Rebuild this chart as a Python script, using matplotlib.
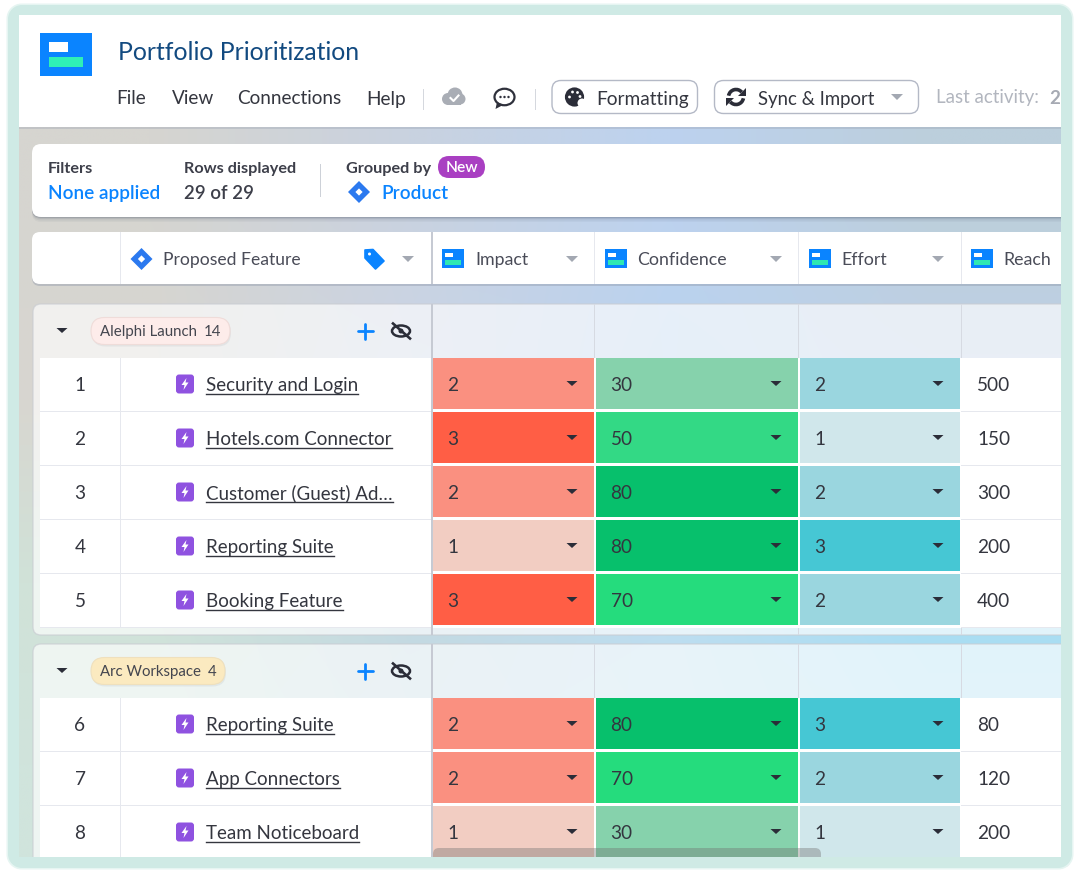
import numpy as np
import matplotlib
matplotlib.use("Agg")
import matplotlib.pyplot as plt
from matplotlib.patches import FancyBboxPatch, Rectangle, Polygon, Circle, Ellipse, PathPatch, Arc
from matplotlib.path import Path
from matplotlib.colors import to_rgb

plt.rcParams['font.family'] = ['Lato', 'DejaVu Sans']

# ---------- data ----------
groups = ["Alelphi Launch", "Arc Workspace"]
group_counts = [14, 4]
group_sizes = [5, 3]
row_numbers = [1, 2, 3, 4, 5, 6, 7, 8]
features = ["Security and Login", "Hotels.com Connector", "Customer (Guest) Ad…",
            "Reporting Suite", "Booking Feature", "Reporting Suite",
            "App Connectors", "Team Noticeboard"]
impact = [2, 3, 2, 1, 3, 2, 2, 1]
confidence = [30, 50, 80, 80, 70, 80, 70, 30]
effort = [2, 1, 2, 3, 2, 3, 2, 1]
reach = [500, 150, 300, 200, 400, 80, 120, 200]
menu_items = ["File", "View", "Connections", "Help"]
column_names = ["Impact", "Confidence", "Effort", "Reach"]

impact_colors = {1: "#f2cdc2", 2: "#fa9080", 3: "#ff5e45"}
confidence_colors = {30: "#86d2ac", 50: "#33d985", 70: "#25dc7d", 80: "#07c06c"}
effort_colors = {1: "#d0e7eb", 2: "#9ad6df", 3: "#46c7d4"}

# ---------- layout ----------
W, H = 1080, 873
fig = plt.figure(figsize=(W / 100, H / 100), dpi=100, facecolor="white")
ax = fig.add_axes([0, 0, 1, 1])
ax.set_xlim(0, W)
ax.set_ylim(H, 0)
ax.axis("off")

INK = "#34363f"
BLUE = "#0a84ff"
L, R, T, B = 19, 1061, 15, 857
OVER = R + 9          # cards run on underneath the frame
col_edges = [431, 594, 798, 961]
col_text_x = [475.5, 637.5, 841, 1003]
col_icon_x = [442, 605, 809, 971]
ROW_H = 54
GROUP_H = 54


def txt(x, y, s, px, color=INK, ha="left", weight="normal", z=10, **kw):
    return ax.text(x, y, s, fontsize=px * 0.72, color=color, ha=ha, va="baseline",
                   fontweight=weight, zorder=z, **kw)


def rrect(x0, y0, x1, y1, r, fc, ec="none", lw=0, z=2, alpha=None):
    p = FancyBboxPatch((x0, y0), x1 - x0, y1 - y0,
                       boxstyle=f"round,pad=0,rounding_size={r}",
                       fc=fc, ec=ec, lw=lw, zorder=z, alpha=alpha)
    ax.add_patch(p)
    return p


def rect(x0, y0, x1, y1, fc, z=2, alpha=None):
    ax.add_patch(Rectangle((x0, y0), x1 - x0, y1 - y0, fc=fc, ec="none", zorder=z, alpha=alpha))


def caret(cx, cy, color, w=6, h=5, z=11):
    ax.add_patch(Polygon([(cx - w, cy - h / 2), (cx + w, cy - h / 2), (cx, cy + h / 2 + 1)],
                         closed=True, fc=color, ec="none", zorder=z))


def mini_logo(x0, y0, x1, y1, z=9):
    w, h = x1 - x0, y1 - y0
    rect(x0, y0, x1, y1, "#0a84ff", z)
    rect(x0 + .15 * w, y0 + .2 * h, x0 + .52 * w, y0 + .44 * h, "#ffffff", z + .1)
    rect(x0 + .15 * w, y0 + .58 * h, x0 + .85 * w, y0 + .82 * h, "#2fe8b2", z + .1)


def diamond(cx, cy, r, z=9):
    ax.add_patch(Polygon([(cx, cy - r), (cx + r, cy), (cx, cy + r), (cx - r, cy)],
                         closed=True, fc="#2b79ef", ec="none", zorder=z))
    s = r * .33
    ax.add_patch(Polygon([(cx, cy - s), (cx + s, cy), (cx, cy + s), (cx - s, cy)],
                         closed=True, fc="white", ec="none", zorder=z + .1))


def bolt(cx, cy, z=9):
    rrect(cx - 9, cy - 9.5, cx + 9, cy + 9.5, 3, "#8f52e0", z=z)
    ax.add_patch(Polygon([(cx + 1.5, cy - 6), (cx - 3.5, cy + 1), (cx - .5, cy + 1), (cx - 1.5, cy + 6),
                          (cx + 3.5, cy - 1.5), (cx + .5, cy - 1.5)],
                         closed=True, fc="white", ec="none", zorder=z + .1))


# ---------- gradient background ----------
grid = [["#d6d5d0", "#c9d2e0", "#bdd2ef", "#bccfdc"],
        ["#d8d6d0", "#ccd5e6", "#b7d3ee", "#c0d0e8"],
        ["#d0e2d8", "#c3d8e0", "#bcdcf0", "#a6dcf4"],
        ["#d0e4dc", "#c6dde6", "#bfe0f0", "#b0e0f0"]]
img = np.array([[to_rgb(c) for c in row] for row in grid])
ax.imshow(img, extent=(L, R, B, 127), interpolation="bilinear", aspect="auto", zorder=0)
ax.set_xlim(0, W)
ax.set_ylim(H, 0)

# ---------- header ----------
rect(L, T, R, 127, "white", 3)
rect(L, 127, R, 129, "#9aa3b2", 2.9, alpha=.35)
rect(40, 33, 92, 76, BLUE, 4)
rect(48.5, 42, 67.5, 52, "white", 5)
rect(48.5, 57, 82.5, 67, "#2ff0b6", 5)
txt(118, 60, "Portfolio Prioritization", 24.7, "#124a80")
for name, x in zip(menu_items, [116.5, 171.5, 237.5, 366.5]):
    txt(x, 104.5, name, 19)
rect(422.5, 89, 424, 110, "#d5d8de", 5)
rect(534.5, 89, 536, 110, "#d5d8de", 5)

# cloud icon
for (cx, cy, r) in [(448, 99, 6), (455, 95, 7.5), (460, 99, 5.5)]:
    ax.add_patch(Circle((cx, cy), r, fc="#a9adb5", ec="none", zorder=6))
rect(447, 98, 461, 105, "#a9adb5", 6)
ax.plot([450.5, 453.5, 458.5], [98, 101, 95.5], color="white", lw=1.5, zorder=7)
# chat icon
ax.add_patch(Ellipse((504.5, 97), 20, 16.5, fc="none", ec="#2f313c", lw=1.6, zorder=6))
ax.add_patch(Polygon([(497, 102), (495.5, 109), (503, 105)], closed=True, fc="#2f313c", ec="none", zorder=6))
for dx in (-4, 0, 4):
    ax.add_patch(Circle((504.5 + dx, 97), 1.2, fc="#2f313c", ec="none", zorder=7))

# buttons
rrect(552, 80.5, 697.5, 113.5, 9, "white", "#b4b9c6", 1.0, z=5)
rrect(714.5, 80.5, 918.5, 113.5, 9, "white", "#b4b9c6", 1.0, z=5)
txt(596, 104.5, "Formatting", 19.2)
txt(758, 104.5, "Sync & Import", 18.7)
caret(897, 96.5, "#a3a8b2")
# palette icon
ax.add_patch(Circle((574.5, 97), 9.6, fc="#2b2d38", ec="none", zorder=6))
ax.add_patch(Circle((582, 103), 4.5, fc="white", ec="none", zorder=6.1))
for dx, dy in [(-5, 0), (-2, -5), (3, -4.5), (5.5, -.5)]:
    ax.add_patch(Circle((574.5 + dx, 97 + dy), 1.4, fc="white", ec="none", zorder=7))
# sync icon
ax.add_patch(Arc((736, 97), 15, 15, theta1=190, theta2=320, color="#2b2d38", lw=2.6, zorder=6))
ax.add_patch(Arc((736, 97), 15, 15, theta1=10, theta2=140, color="#2b2d38", lw=2.6, zorder=6))
ax.add_patch(Polygon([(746, 88), (746, 96), (738, 96)], closed=True, fc="#2b2d38", ec="none", zorder=6))
ax.add_patch(Polygon([(726, 106), (726, 98), (734, 98)], closed=True, fc="#2b2d38", ec="none", zorder=6))
txt(935.5, 103.5, "Last activity:", 18.8, "#b2b6bf")
txt(1049, 103.5, "2", 18.8, "#a6aab3", weight="bold")

# ---------- filter card ----------
for off, a in [(5, .05), (3.5, .08), (2, .12), (1, .18)]:
    rrect(32, 144 + off, OVER, 217 + off, 9, "#4a5568", z=2.5, alpha=a)
rrect(32, 144, OVER, 217, 9, "white", z=3)
txt(48, 173, "Filters", 16.2, "#3d3f4a", weight="bold")
txt(48, 199, "None applied", 19, BLUE, weight="semibold")
txt(184, 173, "Rows displayed", 16.2, "#3d3f4a", weight="bold")
txt(184, 199, "29 of 29", 18.8, "#3d3f4a", weight="semibold")
rect(319.5, 164, 321, 197, "#cdd1d8", 5)
txt(345.5, 173, "Grouped by", 16.2, "#3d3f4a", weight="bold")
rrect(438, 156, 485, 178, 11, "#a93fc2", z=5)
txt(461.5, 172.5, "New", 15.5, "white", ha="center", weight="semibold")
diamond(359, 192, 11)
txt(381, 199, "Product", 19, BLUE, weight="semibold")

# ---------- column header ----------
rrect(32, 234.5, OVER, 286, 8, "#8d96a8", z=2.5, alpha=.4)
rrect(32, 232, OVER, 284, 8, "white", z=3)
rect(119.5, 232, 120.5, 284, "#e6e8ee", 4)
rect(430.5, 232, 432.5, 284, "#c6cad3", 4)
for e in col_edges[1:]:
    rect(e - .5, 232, e + .5, 284, "#e6e8ee", 4)
diamond(141.5, 259, 11)
txt(163, 265, "Proposed Feature", 17.5, "#4a4c58")
# tag icon
ax.add_patch(Polygon([(365, 250), (373, 249.5), (384, 261), (375.5, 269), (365, 258)], closed=True,
                     fc=BLUE, ec=BLUE, lw=1.2, joinstyle="round", zorder=6))
ax.add_patch(Circle((369.5, 254), 1.5, fc="white", ec="none", zorder=7))
caret(408, 258.5, "#a3a8b2")
for name, ix, tx, x_caret in zip(column_names, col_icon_x, col_text_x, [572, 776, 938, None]):
    mini_logo(ix, 249, ix + 22, 268)
    txt(tx, 265, name, 17.7, "#4a4c58")
    if x_caret:
        caret(x_caret, 258.5, "#a3a8b2")

# ---------- groups and rows ----------
y = 304
row_i = 0
pill_widths = [139, 134]
pill_colors = [("#fdecea", "#efdcd9"), ("#fbeac0", "#efe0bd")]
for g, (gname, cnt, n) in enumerate(zip(groups, group_counts, group_sizes)):
    rows_top = y + GROUP_H
    rows_bottom = rows_top + n * ROW_H
    panel_bottom = min(rows_bottom + 7, B + 10)
    # panel
    rrect(33, y, OVER, panel_bottom, 8, "white", "#c9ccd2", 1.0, z=1, alpha=.66)
    rect(430.5, y, 432.5, panel_bottom, "#c6cad3", 1.5)
    for e in col_edges[1:]:
        rect(e - .5, y, e + .5, panel_bottom, "#d6dae2", 1.5)
    # group header content
    cy = y + 27
    caret(62, cy - 1, "#2b2d38", w=5.5, h=4)
    px1 = 91 + pill_widths[g]
    rrect(92, cy - 12.5, px1 + 1, cy + 15.5, 13.5, "#8a8f99", z=2, alpha=.12)
    rrect(91, cy - 13.5, px1, cy + 13.5, 13.5, pill_colors[g][0], pill_colors[g][1], .8, z=3)
    txt(99.5, cy + 5, gname, 15, "#44464f")
    txt(px1 - 9, cy + 5, str(cnt), 15, "#44464f", ha="right")
    # plus
    ax.plot([357.5, 372.5], [cy, cy], color=BLUE, lw=2.0, zorder=6, solid_capstyle="round")
    ax.plot([365, 365], [cy - 7.5, cy + 7.5], color=BLUE, lw=2.0, zorder=6, solid_capstyle="round")
    # hidden-eye icon
    ax.add_patch(Ellipse((401, cy), 18, 11, fc="none", ec="#2b2d38", lw=1.8, zorder=6))
    ax.add_patch(Circle((401, cy), 2.5, fc="#2b2d38", ec="none", zorder=6))
    ax.plot([393, 410], [cy - 7.5, cy + 7.5], color="#2b2d38", lw=1.9, zorder=7)
    # rows
    for k in range(n):
        top = rows_top + k * ROW_H
        bot = top + ROW_H
        mid = top + 27
        base = mid + 6
        rect(40, top, 431, bot, "white", 2)
        rect(961, top, R, bot, "white", 2)
        rect(40, bot - 1.5, 431, bot - .3, "#e6e8ee", 3)
        rect(961, bot - 1.5, R, bot - .3, "#e6e8ee", 3)
        rect(119.5, top, 120.5, bot, "#e6e8ee", 3)
        rect(430.5, top, 432.5, bot, "#c6cad3", 3)
        rect(432, top, 961, bot, "white", 2)
        txt(80, base, str(row_numbers[row_i]), 19, ha="center")
        bolt(185, mid - 1)
        t = txt(206, base, features[row_i], 18.8)
        bb = t.get_window_extent(fig.canvas.get_renderer())
        ax.plot([bb.x0, bb.x1], [base + 3, base + 3], color=INK, lw=1.0, zorder=10)
        cells = [(impact[row_i], impact_colors[impact[row_i]], 433, 594, 572),
                 (confidence[row_i], confidence_colors[confidence[row_i]], 596, 798, 776),
                 (effort[row_i], effort_colors[effort[row_i]], 800, 960, 938)]
        for val, colr, x0, x1, xc in cells:
            rect(x0, top, x1, bot - 3, colr, 4)
            txt(x0 + 14.5, base, str(val), 19)
            caret(xc, mid - 2, "#2b2d38", w=5.5, h=4)
        txt(977, base, str(reach[row_i]), 19)
        row_i += 1
    y = panel_bottom + 9

# scrollbar
rrect(433, 848, 821, 866, 6, "#6f6f6f", z=12, alpha=.38)

# ---------- outer frame (drawn on top, with a window) ----------
def rounded_ring(x0, y0, x1, y1, r):
    k = .5523 * r
    v = [(x0 + r, y0), (x1 - r, y0), (x1 - r + k, y0), (x1, y0 + r - k), (x1, y0 + r),
         (x1, y1 - r), (x1, y1 - r + k), (x1 - r + k, y1), (x1 - r, y1),
         (x0 + r, y1), (x0 + r - k, y1), (x0, y1 - r + k), (x0, y1 - r),
         (x0, y0 + r), (x0, y0 + r - k), (x0 + r - k, y0), (x0 + r, y0)]
    c = [Path.MOVETO, Path.LINETO, Path.CURVE4, Path.CURVE4, Path.CURVE4,
         Path.LINETO, Path.CURVE4, Path.CURVE4, Path.CURVE4,
         Path.LINETO, Path.CURVE4, Path.CURVE4, Path.CURVE4,
         Path.LINETO, Path.CURVE4, Path.CURVE4, Path.CURVE4]
    return v, c


iv = [(L, T), (L, B), (R, B), (R, T), (L, T)]
ic = [Path.MOVETO, Path.LINETO, Path.LINETO, Path.LINETO, Path.CLOSEPOLY]
ov2, oc2 = rounded_ring(6.5, 3.5, 1073.5, 869.5, 15)
ax.add_patch(PathPatch(Path(ov2 + iv, oc2 + ic), fc="#e6f5f2", ec="none", zorder=19))
ov, oc = rounded_ring(8, 5, 1072, 868, 14)
ax.add_patch(PathPatch(Path(ov + iv, oc + ic), fc="#cfeae5", ec="none", zorder=20))

fig.savefig("out.png", dpi=100, facecolor="white")
